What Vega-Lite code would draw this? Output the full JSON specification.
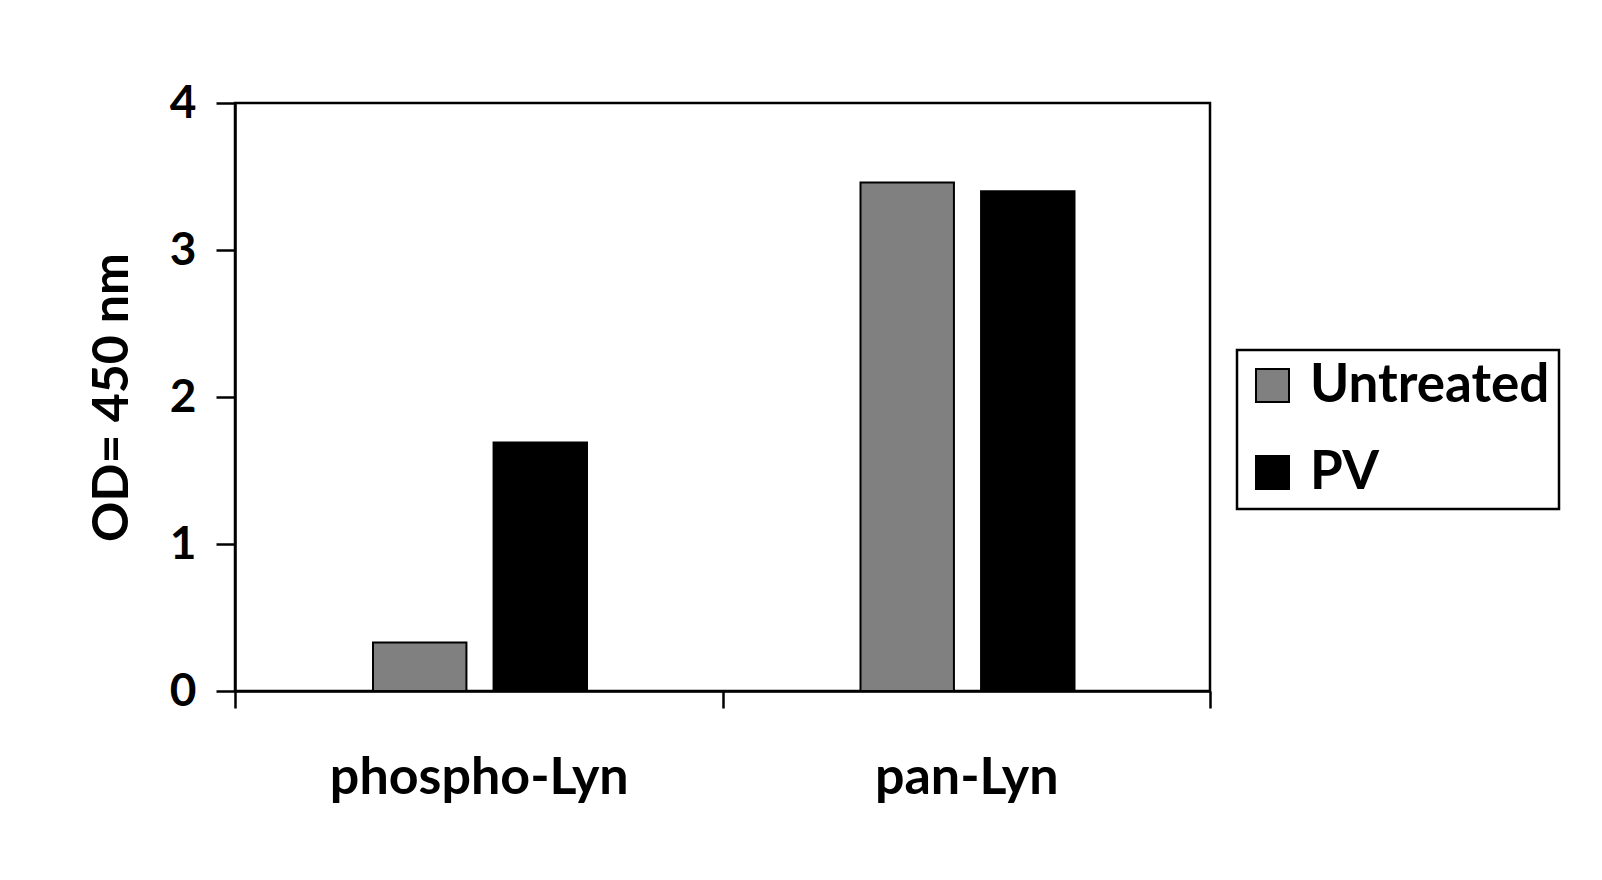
{
  "$schema": "https://vega.github.io/schema/vega-lite/v6.json",
  "autosize": "none",
  "width": 975,
  "height": 588,
  "padding": {"left": 235, "top": 103, "right": 392, "bottom": 189},
  "background": "white",
  "config": {
    "font": "Lato",
    "view": {"stroke": "black", "strokeWidth": 2.5},
    "axis": {"domainColor": "black", "domainWidth": 2.5, "tickColor": "black", "tickWidth": 2.5, "grid": false, "labelFont": "Lato", "labelFontWeight": "bold", "labelColor": "black", "titleFont": "Lato", "titleFontWeight": "bold", "titleColor": "black"}
  },
  "data": {
    "values": [
      {"target": "phospho-Lyn", "treatment": "Untreated", "od": 0.33},
      {"target": "phospho-Lyn", "treatment": "PV", "od": 1.69},
      {"target": "pan-Lyn", "treatment": "Untreated", "od": 3.46},
      {"target": "pan-Lyn", "treatment": "PV", "od": 3.40}
    ]
  },
  "mark": {"type": "bar", "stroke": "black", "strokeWidth": 2},
  "encoding": {
    "x": {
      "field": "target", "type": "nominal", "sort": ["phospho-Lyn", "pan-Lyn"],
      "scale": {"paddingInner": 0, "paddingOuter": 0},
      "axis": {"title": null, "labelAngle": 0, "labelFontSize": 52, "labelLimit": 600, "tickBand": "extent", "tickSize": 17, "labelPadding": 44, "labelBaseline": "top"}
    },
    "xOffset": {
      "field": "treatment", "type": "nominal", "sort": ["Untreated", "PV"],
      "scale": {"range": [138, 352], "paddingInner": 0.225, "paddingOuter": 0}
    },
    "y": {
      "field": "od", "type": "quantitative",
      "scale": {"domain": [0, 4], "nice": false},
      "axis": {"title": "OD= 450 nm", "values": [0, 1, 2, 3, 4], "format": "d", "labelFontSize": 46, "tickSize": 19, "labelPadding": 20, "titleFontSize": 50, "titlePadding": 32}
    },
    "color": {
      "field": "treatment", "type": "nominal", "sort": ["Untreated", "PV"],
      "scale": {"domain": ["Untreated", "PV"], "range": ["#808080", "#000000"]},
      "legend": {
        "title": null, "orient": "none", "legendX": 1002, "legendY": 247,
        "strokeColor": "black", "padding": 9,
        "symbolType": "square", "symbolSize": 1089, "symbolStrokeColor": "black", "symbolStrokeWidth": 2, "symbolOpacity": 1,
        "labelFont": "Lato", "labelFontWeight": "bold", "labelFontSize": 53, "labelColor": "black", "labelOffset": 11,
        "rowPadding": 33, "labelLimit": 400,
        "encode": {"legend": {"update": {"strokeWidth": {"value": 2.5}}}}
      }
    }
  }
}
